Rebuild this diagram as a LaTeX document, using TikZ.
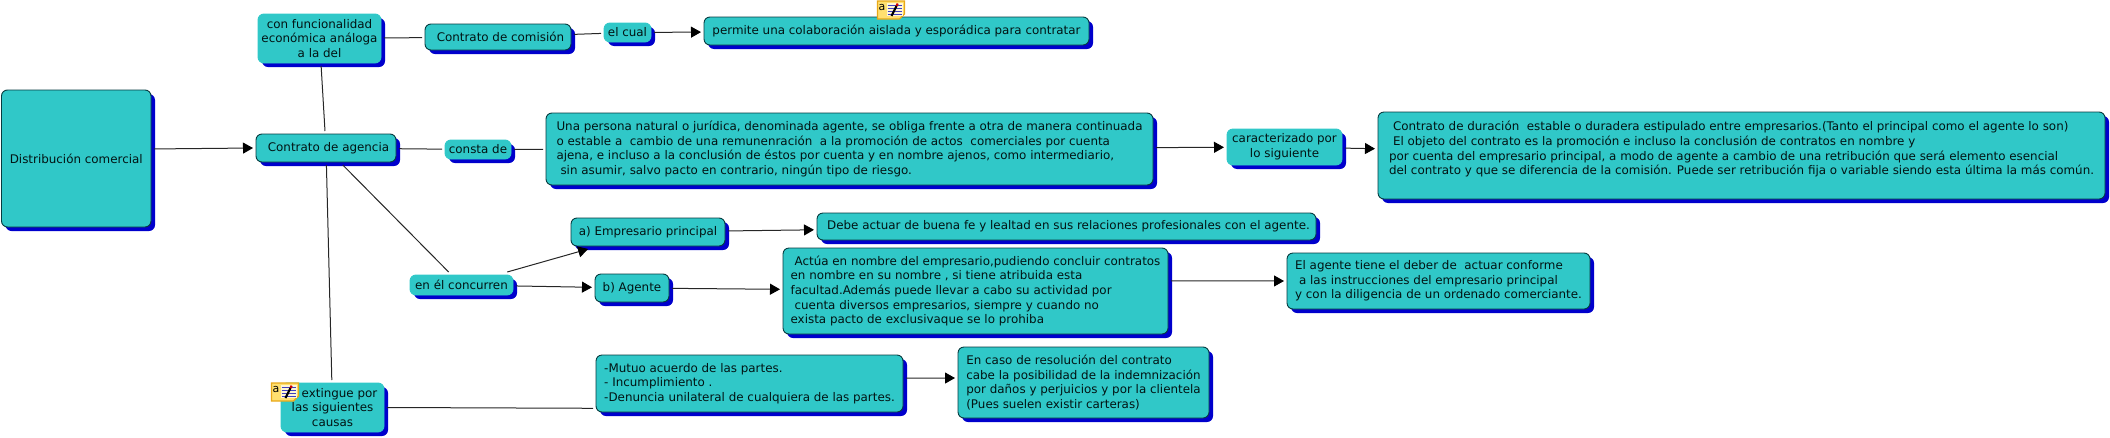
\documentclass[tikz,border=0pt]{standalone}
\usepackage{fontspec}
\setmainfont{DejaVu Sans}
\usetikzlibrary{arrows.meta,calc}
\definecolor{boxfill}{HTML}{30C8C8}
\definecolor{boxedge}{HTML}{063C40}
\definecolor{boxshadow}{HTML}{0000CC}
\definecolor{boxtext}{HTML}{021414}
\definecolor{notefill}{HTML}{FFE070}
\definecolor{noteedge}{HTML}{E8A818}
\tikzset{
 x=1pt,y=-1pt,
 base/.style={rounded corners=6pt,fill=boxfill,align=left,inner sep=0pt,outer sep=3pt,
   text=boxtext,font=\fontsize{11.9}{14.7}\selectfont},
 concept/.style={base,draw=boxedge,line width=.9pt},
 linker/.style={base,draw=boxfill,line width=.9pt,align=center},
 plainline/.style={draw=black!85,line width=1pt},
 arrowline/.style={draw=black!85,line width=1pt,-{Triangle[length=10pt,width=11pt,black]}},
}
% #1 name, #2 style, #3 x0, #4 y0, #5 x1, #6 y1, #7 text
\newcommand{\mapbox}[7]{%
 \fill[boxshadow,rounded corners=6pt] (#3+4,#4+4) rectangle (#5+4,#6+4);
 \node[#2,minimum width=#5-#3,minimum height=#6-#4] (#1) at ({(#3+#5)/2},{(#4+#6)/2}) {#7};
}
\newcommand{\noteicon}[3]{%
 \begin{scope}[shift={(#2,#3)}]
 \draw[noteedge,fill=notefill,line width=1.2pt] (0,0) -- (27,0) -- (27,13) -- (22,18) -- (0,18) -- cycle;
 \fill[white!70!notefill] (9,2) rectangle (25.5,15);
 \foreach \yy in {4,7,10,13} \draw[blue!50!gray,line width=.9pt] (10,\yy) -- (24,\yy);
 \draw[black,line width=2.2pt] (14,15) -- (19,5);
 \draw[red!80!black,line width=2.2pt] (19,5) -- (20.2,2.6);
 \node[inner sep=0pt,font=\fontsize{11}{11}\selectfont,text=black] (#1) at (4.6,6) {a};
 \end{scope}}
\begin{document}
\begin{tikzpicture}
\useasboundingbox (0,0) rectangle (2110,437);
\mapbox{dist}{concept}{1.5}{90}{151}{227}{Distribución comercial}
\mapbox{func}{linker}{258}{14}{381}{63}{con funcionalidad\\económica análoga\\a la del}
\mapbox{comi}{concept}{425}{24}{571}{50}{\hspace*{5pt}Contrato de comisión}
\mapbox{cual}{linker}{604}{23}{651}{42}{el cual}
\mapbox{perm}{concept}{704}{17}{1089}{45}{permite una colaboración aislada y esporádica para contratar}
\mapbox{agen}{concept}{256}{134}{396}{162}{\hspace*{5pt}Contrato de agencia}
\mapbox{cons}{linker}{445}{140}{511}{159}{consta de}
\mapbox{pers}{concept}{546}{113}{1153}{185}{Una persona natural o jurídica, denominada agente, se obliga frente a otra de manera continuada\\o estable a\ \ cambio de una remunenración\ \ a la promoción de actos\ \ comerciales por cuenta\\ajena, e incluso a la conclusión de éstos por cuenta y en nombre ajenos, como intermediario,\\\hspace*{4pt}sin asumir, salvo pacto en contrario, ningún tipo de riesgo.}
\mapbox{cara}{linker}{1227}{129}{1342}{165}{caracterizado por\\lo siguiente}
\mapbox{dura}{concept}{1378}{112}{2105}{199}{\hspace*{4pt}Contrato de duración\ \ estable o duradera estipulado entre empresarios.(Tanto el principal como el agente lo son)\\\hspace*{4pt}El objeto del contrato es la promoción e incluso la conclusión de contratos en nombre y\\por cuenta del empresario principal, a modo de agente a cambio de una retribución que será elemento esencial\\del contrato y que se diferencia de la comisión. Puede ser retribución fija o variable siendo esta última la más común.\\\mbox{}}
\mapbox{conc}{linker}{410}{275}{513}{295}{en él concurren}
\mapbox{empr}{concept}{571}{218}{725}{246}{a) Empresario principal}
\mapbox{debe}{concept}{817}{213}{1316}{240}{\hspace*{4pt}Debe actuar de buena fe y lealtad en sus relaciones profesionales con el agente.}
\mapbox{agte}{concept}{595}{274}{669}{302}{b) Agente}
\mapbox{actu}{concept}{783}{248}{1168}{334}{\hspace*{4pt}Actúa en nombre del empresario,pudiendo concluir contratos\\en nombre en su nombre , si tiene atribuida esta\\facultad.Además puede llevar a cabo su actividad por\\\hspace*{4pt}cuenta diversos empresarios, siempre y cuando no\\exista pacto de exclusivaque se lo prohiba}
\mapbox{debr}{concept}{1287}{253}{1590}{309}{El agente tiene el deber de\ \ actuar conforme\\\hspace*{4pt}a las instrucciones del empresario principal\\y con la diligencia de un ordenado comerciante.}
\mapbox{exti}{linker}{281}{383}{384}{432}{\hspace*{14pt}extingue por\\las siguientes\\causas}
\mapbox{mutu}{concept}{596}{355}{903}{412}{-Mutuo acuerdo de las partes.\\- Incumplimiento .\\-Denuncia unilateral de cualquiera de las partes.}
\mapbox{caso}{concept}{958}{347}{1209}{418}{En caso de resolución del contrato\\cabe la posibilidad de la indemnización\\por daños y perjuicios y por la clientela\\(Pues suelen existir carteras)}

\draw[arrowline] (dist.7.6) -- (agen.west);
\draw[plainline] (func) -- (comi);
\draw[plainline] (comi) -- (cual);
\draw[arrowline] (cual) -- (perm);
\draw[plainline] (func) -- (agen);
\draw[plainline] (agen) -- (cons);
\draw[plainline] (cons) -- (pers);
\draw[arrowline] (pers) -- (cara);
\draw[arrowline] (cara) -- (dura);
\draw[plainline] (agen) -- (conc);
\draw[plainline] (agen) -- (exti);
\draw[arrowline] (conc) -- (empr);
\draw[arrowline] (conc) -- (agte);
\draw[arrowline] (empr) -- (debe);
\draw[arrowline] (agte) -- (actu);
\draw[arrowline] (actu.3.3) -- (debr.west);
\draw[plainline] (exti.east) -- (mutu.189.5);
\draw[arrowline] (mutu.2) -- (caso.178.4);

\noteicon{notea}{877.5}{1}
\noteicon{noteb}{271.5}{383}
\end{tikzpicture}
\end{document}
